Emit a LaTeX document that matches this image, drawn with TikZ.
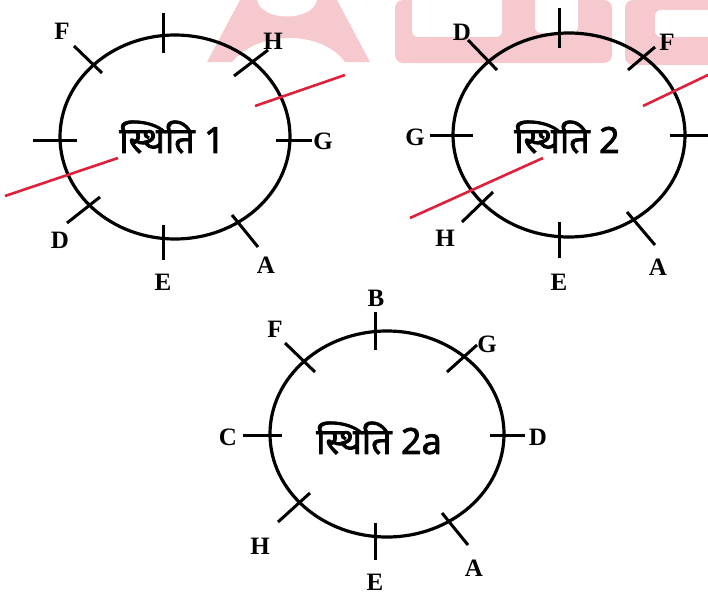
\documentclass[tikz,border=0pt]{standalone}
\usepackage{fontspec}
\setmainfont{Liberation Serif}
\newfontfamily\hindi[Script=Devanagari,FakeBold=2.2]{Noto Sans}
\definecolor{wmpink}{RGB}{246,201,206}
\definecolor{cutred}{RGB}{222,32,58}

\begin{document}
\begin{tikzpicture}[x=1pt,y=-1pt,
  ring/.style={line width=3.2pt},
  tk/.style={line width=3pt},
  cut/.style={line width=2.6pt,cutred},
  lbl/.style={font=\fontsize{25}{25}\selectfont\bfseries,inner sep=0pt},
  stitle/.style={font=\hindi\fontsize{36}{40}\selectfont,inner sep=0pt}]
\useasboundingbox (0,0) rectangle (708,594);
\clip (0,0) rectangle (708,594);

% watermark
\fill [wmpink] (207,62) -- (240,0) -- (337,0) -- (370,62) -- (345,62) .. controls (322,30) and (258,30) .. (232,62) -- cycle;
\fill [white] (257,0) .. controls (262,22) and (312,22) .. (317,0) -- cycle;
\fill [wmpink,rounded corners=8pt] (395,0) -- (395,63) -- (612,63) -- (612,0) -- cycle;
\fill [white,rounded corners=6pt] (412,-5) rectangle (502,37);
\fill [white,rounded corners=6pt] (535,-5) rectangle (578,33);
\fill [wmpink,rounded corners=8pt] (625,0) rectangle (715,65);
\fill [white,rounded corners=6pt] (655,10) rectangle (715,37);

% sthiti 1
\draw [ring] (175,137) ellipse (115pt and 102pt);
\draw [tk] (163,13)--(163,53);
\draw [tk] (74,46)--(102,73);
\draw [tk] (234,76)--(268,50);
\draw [tk] (33,140)--(77,140);
\draw [tk] (276,140)--(312,140);
\draw [tk] (67,223)--(100,197);
\draw [tk] (163,225)--(163,260);
\draw [tk] (232,215)--(258,247);
\draw [cut] (5,196)--(118,158);
\draw [cut] (255,106)--(345,75);
\node [stitle] (s1) at (172,137) {स्थिति 1};
\node [lbl] (f1) at (62,31) {F};
\node [lbl] (h1) at (273,41) {H};
\node [lbl] (g1) at (323,141) {G};
\node [lbl] (d1) at (60,240) {D};
\node [lbl] (e1) at (163,282) {E};
\node [lbl] (a1) at (266,265) {A};

% sthiti 2
\draw [ring] (569,135) ellipse (116pt and 102pt);
\draw [tk] (559,8)--(559,48);
\draw [tk] (468,40)--(497,70);
\draw [tk] (628,70)--(655,47);
\draw [tk] (430,135)--(473,135);
\draw [tk] (670,135)--(710,135);
\draw [tk] (462,222)--(493,192);
\draw [tk] (559,222)--(559,258);
\draw [tk] (627,212)--(655,245);
\draw [cut] (410,218)--(543,158);
\draw [cut] (643,106)--(710,74);
\node [stitle] (s2) at (567,137) {स्थिति 2};
\node [lbl] (d2) at (462,32) {D};
\node [lbl] (f2) at (667,42) {F};
\node [lbl] (g2) at (415,137) {G};
\node [lbl] (h2) at (445,238) {H};
\node [lbl] (e2) at (559,282) {E};
\node [lbl] (a2) at (658,267) {A};

% sthiti 2a
\draw [ring] (387,434) ellipse (117pt and 103pt);
\draw [tk] (375,312)--(375,350);
\draw [tk] (285,343)--(315,372);
\draw [tk] (447,372)--(477,345);
\draw [tk] (243,435)--(282,435);
\draw [tk] (490,435)--(525,435);
\draw [tk] (278,522)--(310,493);
\draw [tk] (375,523)--(375,560);
\draw [tk] (442,513)--(468,545);
\node [stitle] (s3) at (379,438) {स्थिति 2a};
\node [lbl] (b3) at (376,298) {B};
\node [lbl] (f3) at (275,329) {F};
\node [lbl] (g3) at (487,344) {G};
\node [lbl] (c3) at (228,437) {C};
\node [lbl] (d3) at (538,437) {D};
\node [lbl] (h3) at (260,546) {H};
\node [lbl] (e3) at (375,582) {E};
\node [lbl] (a3) at (474,568) {A};

\end{tikzpicture}
\end{document}
